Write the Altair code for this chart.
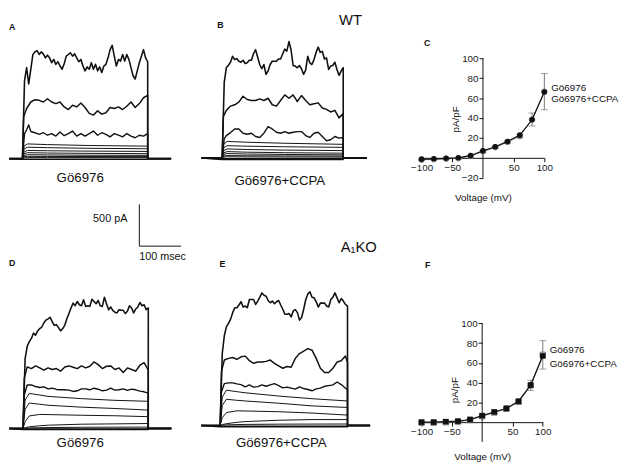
import altair as alt
import pandas as pd

# ------------------------------------------------------------------
# DATA
# ------------------------------------------------------------------
# time grids (ms after step onset)
T5_300 = [0, 5, 10, 15, 20, 25, 30, 35, 40, 45, 50, 55, 60, 65, 70, 75, 80, 85, 90, 95,
          100, 105, 110, 115, 120, 125, 130, 135, 140, 145, 150, 155, 160, 165, 170, 175,
          180, 185, 190, 195, 200, 205, 210, 215, 220, 225, 230, 235, 240, 245, 250, 255,
          260, 265, 270, 275, 280, 285, 290, 295, 300]
T5_290 = T5_300[:59]
T5_305 = T5_300 + [305]
T10_300 = [0, 3, 10, 20, 30, 40, 50, 60, 70, 80, 90, 100, 110, 120, 130, 140, 150, 160,
           170, 180, 190, 200, 210, 220, 230, 240, 250, 260, 270, 280, 290, 300]
T10_290 = T10_300[:31]
T10_305 = T10_300 + [305]
A3_T = [0, 5, 10, 15, 20, 30, 40, 50, 60, 70, 80, 90, 100, 110, 120, 130, 140, 150, 160,
        170, 180, 190, 200, 210, 220, 230, 240, 250, 260, 270, 280, 290, 300]
B3_T = [0, 5, 10, 20, 30, 40, 50, 60, 70, 80, 90, 100, 110, 120, 130, 140, 150, 160,
        170, 180, 190, 200, 210, 220, 230, 240, 250, 260, 270, 280, 290]

# baseline extent of each trace panel (ms)
A_BASE = [-32, 356]
B_BASE = [-49, 347]
D_BASE = [-33, 355]
E_BASE = [-45, 359]

# ---- Panel A (WT, Go6976), currents in pA ----
A_TOP = [0, 933, 1090, 894, 1070, 1247, 1278, 1294, 1247, 1278,
         1254, 1207, 1239, 1207, 1149, 1188, 1129, 1160, 1109, 1070,
         1137, 1227, 1247, 1266, 1227, 1254, 1207, 1160, 1188, 1109,
         1051, 1098, 1070, 1149, 1070, 1129, 1051, 1098, 1031, 1109,
         1129, 1207, 1305, 1356, 1227, 1109, 1188, 1168, 1247, 1168,
         1247, 1188, 1090, 992, 953, 1051, 1149, 1227, 1305, 1207, 1160]
A_MID = [0, 502, 600, 678, 706, 698, 678, 717, 678, 659, 678, 619, 588, 639, 619, 666,
         612, 541, 521, 572, 533, 549, 612, 600, 619, 588, 627, 678, 612, 659, 729, 757]
A_THIRD = [0, 300, 345, 404, 325, 310, 290, 310, 280, 300, 270, 320, 275, 300, 330, 270,
           300, 270, 300, 330, 280, 310, 290, 260, 300, 280, 260, 300, 270, 250, 280, 270, 300]
A_SM_T = [0, 4, 12, 60, 150, 300]
A_SMOOTH = [[0, 150, 176, 168, 158, 149], [0, 115, 137, 131, 124, 118],
            [0, 80, 98, 94, 90, 86], [0, 58, 71, 67, 63, 59],
            [0, 38, 47, 44, 41, 39], [0, 22, 27, 26, 25, 24], [0, 10, 12, 12, 12, 12]]
A_IN_T = [0, 300]
A_INWARD = [[-8, -8]]

# ---- Panel B (WT, Go6976+CCPA) ----
B_TOP = [0, 906, 1082, 1113, 1149, 1219, 1180, 1192, 1160, 1149,
         1172, 1133, 1141, 1172, 1172, 1250, 1298, 1211, 1121, 1070,
         1121, 1004, 1043, 1121, 1160, 1160, 1160, 1188, 1188, 1250,
         1305, 1282, 1396, 1298, 1109, 1102, 1082, 1109, 1070, 1004,
         1055, 1219, 1141, 1121, 1180, 1266, 1329, 1266, 1278, 1188,
         1200, 1062, 1102, 1109, 1149, 1062, 992, 1043, 1082]
B_MID = [0, 500, 572, 623, 639, 670, 741, 702, 690, 690, 710, 690, 717, 639, 623, 690,
         757, 717, 757, 678, 749, 690, 639, 651, 662, 600, 584, 553, 572, 482, 533]
B_THIRD = [0, 230, 270, 306, 349, 349, 298, 286, 298, 259, 247, 298, 376, 349, 310, 298,
           318, 298, 310, 318, 318, 270, 247, 298, 310, 259, 208, 220, 259, 239, 247]
B_SM_T = [0, 4, 12, 60, 150, 290]
B_SMOOTH = [[0, 170, 200, 190, 178, 165], [0, 125, 149, 143, 136, 129],
            [0, 90, 110, 103, 96, 90], [0, 64, 78, 71, 65, 59],
            [0, 45, 55, 49, 44, 39], [0, 25, 31, 28, 26, 24], [0, 13, 16, 14, 13, 12]]
B_IN_T = [0, 290]
B_INWARD = [[-18, -18], [-8, -8]]

# ---- Panel D (A1KO, Go6976) ----
D_TOP = [0, 835, 984, 1039, 1078, 1141, 1117, 1168, 1196, 1215,
         1266, 1298, 1313, 1330, 1278, 1235, 1243, 1207, 1168, 1196,
         1235, 1313, 1376, 1443, 1501, 1470, 1521, 1482, 1470, 1541,
         1462, 1470, 1462, 1548, 1521, 1494, 1533, 1470, 1462, 1572,
         1494, 1423, 1454, 1415, 1392, 1384, 1423, 1415, 1415, 1376,
         1403, 1470, 1443, 1384, 1431, 1454, 1509, 1470, 1482, 1423, 1443]
D_MID = [0, 600, 737, 717, 749, 725, 698, 725, 706, 717, 686, 737, 749, 733, 717, 749,
         725, 745, 796, 764, 717, 745, 749, 706, 725, 670, 725, 706, 686, 757, 788, 698]
D_THIRD = [0, 400, 521, 521, 502, 490, 498, 474, 482, 467, 463, 463, 459, 443, 451, 474,
           474, 463, 482, 470, 451, 459, 482, 459, 463, 474, 455, 470, 463, 447, 439, 423]
D_SM_T = [0, 5, 15, 40, 60, 140, 220, 300]
D_SMOOTH = [[0, 340, 420, 400, 384, 357, 337, 325], [0, 230, 305, 290, 278, 255, 239, 220],
            [0, 80, 150, 168, 166, 158, 152, 141], [0, 8, 20, 32, 39, 51, 55, 59],
            [0, 3, 6, 9, 11, 14, 15, 16]]
D_IN_T = [0, 300]
D_INWARD = [[-6, -6], [-12, -12]]

# ---- Panel E (A1KO, Go6976+CCPA) ----
E_TOP = [0, 862, 1078, 1184, 1223, 1274, 1352, 1411, 1411, 1443,
         1482, 1419, 1431, 1411, 1509, 1509, 1509, 1450, 1490, 1537,
         1588, 1560, 1548, 1497, 1470, 1490, 1458, 1482, 1497, 1443,
         1392, 1333, 1333, 1341, 1301, 1372, 1388, 1352, 1262, 1294,
         1392, 1509, 1576, 1600, 1537, 1529, 1482, 1419, 1466, 1466,
         1466, 1431, 1419, 1509, 1537, 1588, 1529, 1470, 1521, 1490, 1450, 1431]
E_MID = [0, 650, 784, 804, 815, 792, 823, 831, 776, 745, 760, 760, 768, 784, 745, 713,
         686, 706, 698, 804, 862, 890, 921, 902, 804, 686, 635, 635, 686, 760, 776, 831, 753]
E_THIRD = [0, 400, 502, 510, 510, 498, 490, 463, 486, 459, 466, 486, 470, 486, 502, 478,
           451, 459, 447, 435, 463, 443, 431, 416, 439, 447, 470, 478, 486, 521, 490, 447, 431]
E_SM_T = [0, 5, 15, 40, 60, 140, 220, 305]
E_SMOOTH = [[0, 340, 423, 405, 392, 353, 321, 294], [0, 240, 314, 302, 294, 267, 235, 216],
            [0, 95, 155, 176, 174, 165, 149, 125], [0, 10, 22, 38, 47, 63, 71, 71],
            [0, 4, 8, 11, 13, 16, 17, 18]]
E_IN_T = [0, 305]
E_INWARD = [[-8, -8], [-15, -15]]

# ---- scale bar ----
SCALE_MS = [100]
SCALE_PA = [500]

# ---- I-V curves (pA/pF) ----
VOLT = [-100, -80, -60, -40, -20, 0, 20, 40, 60, 80, 100]
SERIES = ["Gö6976", "Gö6976+CCPA"]
C_GO = [-1.3, -1.0, -0.5, 0.0, 2.4, 7.0, 11.2, 16.5, 22.8, 38.2, 66.0]
C_CCPA = [-2.0, -1.5, -1.0, -0.5, 1.8, 6.4, 10.6, 15.8, 21.8, 38.5, 66.5]
C_CCPA_SEM = [0.6, 0.6, 0.6, 0.6, 0.8, 1.2, 1.2, 1.4, 1.8, 6.5, 18.2]
F_GO = [0.0, 0.0, 0.5, 1.0, 2.7, 6.6, 10.3, 14.0, 21.2, 37.5, 67.0]
F_CCPA = [-0.5, -0.5, 0.0, 0.5, 2.2, 6.0, 9.8, 13.5, 20.5, 37.2, 68.1]
F_CCPA_SEM = [0.5, 0.5, 0.5, 0.5, 0.8, 1.0, 1.2, 1.5, 1.8, 5.2, 14.4]
X_TICKS = [-100, -50, 50, 100]
Y_TICKS = [-20, 20, 40, 60, 80, 100]

# ------------------------------------------------------------------
# STYLE / LAYOUT
# ------------------------------------------------------------------
FONT = "Liberation Sans"
INK = "#111111"
PX_MS = 0.425   # px per ms  (100 msec scale bar = 42.5 px)
PX_PA = 0.085   # px per pA  (500 pA scale bar = 42.5 px)

ROW1_H = 146.7
ROW2_H = 53.7
ROW3_H = 160.0


def letter_title(text, dx, offset):
    return alt.TitleParams(text, anchor="start", frame="group", dx=dx, offset=offset,
                           fontSize=9, fontWeight="bold", baseline="middle",
                           color=INK, font=FONT)


def trace_frame(base_ms, groups):
    rows = []
    k = 0
    for times, series_list, width in groups:
        for vals in series_list:
            assert len(times) == len(vals), (len(times), len(vals))
            pts = [(base_ms[0], 0.0)] + list(zip(times, vals)) + \
                  [(times[-1], 0.0), (base_ms[1], 0.0)]
            for i, (t, v) in enumerate(pts):
                rows.append({"sweep": k, "i": i, "t": t, "pA": v, "w": width})
            k += 1
    return pd.DataFrame(rows)


def trace_panel(letter, letter_dx, letter_offset, label, label_x, label_y,
                onset_dx, base_dy, w, h, base_ms, groups):
    df = trace_frame(base_ms, groups)
    t0 = -onset_dx / PX_MS
    t1 = (w - onset_dx) / PX_MS
    p_top = base_dy / PX_PA
    p_bot = -(h - base_dy) / PX_PA
    return alt.Chart(df).mark_line(color=INK, strokeJoin="round").encode(
        x=alt.X("t:Q", scale=alt.Scale(domain=[t0, t1], nice=False, zero=False),
                axis=alt.Axis(domain=False, ticks=False, labels=False, grid=False,
                              title=label, titleX=label_x, titleY=label_y,
                              titleFontSize=13.5, titleFontWeight="normal",
                              titleBaseline="middle", titleAlign="center",
                              titleColor=INK)),
        y=alt.Y("pA:Q", scale=alt.Scale(domain=[p_bot, p_top], nice=False, zero=False),
                axis=None),
        detail="sweep:N",
        order="i:Q",
        strokeWidth=alt.StrokeWidth("w:Q", scale=None),
    ).properties(width=w, height=h, title=letter_title(letter, letter_dx, letter_offset))


def iv_panel(letter, letter_dx, letter_offset, go, ccpa, sem, shape, w, h, top_gap,
             unit_px, ytx, yty, xty, dy1, dy2):
    df = pd.DataFrame({"V": VOLT, "go": go, "cc": ccpa, "sem": sem})
    df["lo"] = df["cc"] - df["sem"]
    df["hi"] = df["cc"] + df["sem"]
    axis_df = pd.DataFrame({"V": [0], "y0": [min(Y_TICKS)], "y1": [max(Y_TICKS)]})
    y_top = max(Y_TICKS) + top_gap / unit_px
    y_bot = y_top - h / unit_px
    xs = alt.Scale(domain=[-100, 100], nice=False, zero=False)
    ys = alt.Scale(domain=[y_bot, y_top], nice=False, zero=False)
    xax = alt.Axis(values=X_TICKS, offset=-(0 - y_bot) * unit_px, grid=False,
                   domainColor=INK, tickColor=INK, tickSize=4, labelFontSize=10,
                   labelColor="#222222", labelPadding=1, labelFlush=False,
                   title="Voltage (mV)", titleFontSize=10, titleFontWeight="normal",
                   titleY=xty, titleBaseline="middle", titleColor=INK)
    yax = alt.Axis(values=Y_TICKS, offset=-w / 2, grid=False, domain=False,
                   tickColor=INK, tickSize=4, labelFontSize=10, labelColor="#222222",
                   labelPadding=1, labelFlush=False, title="pA/pF", titleFontSize=10,
                   titleFontWeight="normal", titleX=ytx, titleY=yty, titleAngle=270,
                   titleAlign="center", titleBaseline="middle", titleColor=INK)
    X = alt.X("V:Q", scale=xs, axis=xax)

    def Y(f):
        return alt.Y(f"{f}:Q", scale=ys, axis=yax)

    base = alt.Chart(df)
    grey = "#777777"
    layers = [
        alt.Chart(axis_df).mark_rule(color=INK, strokeWidth=1).encode(x=X, y=Y("y0"), y2="y1"),
        base.mark_line(color=grey, strokeWidth=1).encode(x=X, y=Y("cc")),
        base.mark_rule(color=grey, strokeWidth=1).encode(x=X, y=Y("lo"), y2="hi"),
        base.mark_tick(color=grey, orient="horizontal", size=7, thickness=1).encode(x=X, y=Y("lo")),
        base.mark_tick(color=grey, orient="horizontal", size=7, thickness=1).encode(x=X, y=Y("hi")),
        base.mark_point(shape=shape, filled=False, color=grey, size=30, opacity=1,
                        strokeWidth=1).encode(x=X, y=Y("cc")),
        base.mark_line(color=INK, strokeWidth=1.2).encode(x=X, y=Y("go")),
        base.mark_point(shape=shape, filled=True, color=INK, size=32, opacity=1).encode(x=X, y=Y("go")),
        base.transform_filter("datum.V == 100").mark_text(
            align="left", baseline="middle", dx=7, dy=dy1, fontSize=10, color=INK, font=FONT
        ).encode(x=X, y=Y("go"), text=alt.value(SERIES[0])),
        base.transform_filter("datum.V == 100").mark_text(
            align="left", baseline="middle", dx=7, dy=dy2, fontSize=10, color=INK, font=FONT
        ).encode(x=X, y=Y("go"), text=alt.value(SERIES[1])),
    ]
    return alt.layer(*layers).properties(width=w, height=h,
                                         title=letter_title(letter, letter_dx, letter_offset))


# ---- trace panels (row 1 plot top = page y 30, row 3 plot top = page y 285) ----
A = trace_panel("A", 0, -2.3, "Gö6976", 72, 0, 13.7, 127.2, 165.3, ROW1_H, A_BASE,
                [(A_SM_T, A_SMOOTH, 1.0), (A_IN_T, A_INWARD, 1.4),
                 (A3_T, [A_THIRD], 1.4), (T10_300, [A_MID], 1.5), (T5_300, [A_TOP], 1.6)])
B = trace_panel("B", 16, -0.7, "Gö6976+CCPA", 79.2, 3.3, 21, 126.7, 203.3, ROW1_H, B_BASE,
                [(B_SM_T, B_SMOOTH, 1.0), (B_IN_T, B_INWARD, 1.4),
                 (B3_T, [B_THIRD], 1.4), (T10_290, [B_MID], 1.5), (T5_290, [B_TOP], 1.6)])
D = trace_panel("D", 0, 13.5, "Gö6976", 72, 1, 14.3, 146.3, 165.3, ROW3_H, D_BASE,
                [(D_SM_T, D_SMOOTH, 1.0), (D_IN_T, D_INWARD, 1.4),
                 (T10_300, [D_THIRD], 1.4), (T10_300, [D_MID], 1.5), (T5_300, [D_TOP], 1.6)])
E = trace_panel("E", 18.4, 11.7, "Gö6976+CCPA", 80.7, 1, 19, 143.3, 203.3, ROW3_H, E_BASE,
                [(E_SM_T, E_SMOOTH, 1.0), (E_IN_T, E_INWARD, 1.4),
                 (T10_305, [E_THIRD], 1.4), (T10_305, [E_MID], 1.5), (T5_305, [E_TOP], 1.6)])

# ---- I-V panels ----
C = iv_panel("C", 2.4, -19, C_GO, C_CCPA, C_CCPA_SEM, "circle", 125, ROW1_H, 25,
             121.7 / 120, -28, 86.7, 40.6, -4.5, 7.5)
F = iv_panel("F", 3.4, 11.3, F_GO, F_CCPA, F_CCPA_SEM, "square", 123.4, ROW3_H, 39.3,
             120.7 / 120, -28, 106.7, 35.1, -5.5, 8.5)

# ---- scale bar ----
S_W, S_H = 175.3, ROW2_H
S_ONSET, S_BASE = 132.7, 42
sb_df = pd.DataFrame({"t": [0], "t2": SCALE_MS, "p": [0], "p2": SCALE_PA})
sx = alt.X("t:Q", scale=alt.Scale(domain=[-S_ONSET / PX_MS, (S_W - S_ONSET) / PX_MS],
                                  nice=False, zero=False),
           axis=alt.Axis(domain=False, ticks=False, labels=False, grid=False,
                         offset=-(S_H - S_BASE), title="100 msec", titleX=132, titleY=10.7,
                         titleAlign="left", titleBaseline="middle", titleFontSize=11,
                         titleFontWeight="normal", titleColor=INK))
sy = alt.Y("p:Q", scale=alt.Scale(domain=[-(S_H - S_BASE) / PX_PA, S_BASE / PX_PA],
                                  nice=False, zero=False),
           axis=alt.Axis(domain=False, ticks=False, labels=False, grid=False,
                         offset=-S_ONSET, title="500 pA", titleX=-12.7, titleY=14,
                         titleAngle=0, titleAlign="right", titleBaseline="middle",
                         titleFontSize=11, titleFontWeight="normal", titleColor=INK))
vert = alt.Chart(sb_df).mark_rule(color=INK, strokeWidth=1).encode(x=sx, y=sy, y2="p2")
horiz = alt.Chart(sb_df).mark_rule(color=INK, strokeWidth=1).encode(x=sx, x2="t2", y=sy)
S = alt.layer(vert, horiz).properties(width=S_W, height=S_H)

# ---- placeholders for the middle row ----
ph_df = pd.DataFrame({"z": [0]})
P1 = alt.Chart(ph_df).mark_point(opacity=0).encode(
    x=alt.X("z:Q", axis=None), y=alt.Y("z:Q", axis=None)
).properties(width=203.3, height=S_H,
             title=alt.TitleParams("A₁KO", anchor="start", frame="group", dx=141.7, dy=58,
                                   offset=0, fontSize=15, fontWeight="normal",
                                   baseline="middle", color=INK, font=FONT))
P2 = alt.Chart(ph_df).mark_point(opacity=0).encode(
    x=alt.X("z:Q", axis=None), y=alt.Y("z:Q", axis=None)
).properties(width=123.4, height=S_H)

chart = alt.concat(
    A, B, C, S, P1, P2, D, E, F,
    columns=3, spacing={"row": 27.3, "column": 20}, bounds="flush", align="each",
).properties(
    title=alt.TitleParams("WT", anchor="start", frame="group", dx=336, offset=-6,
                          baseline="top", fontSize=15, fontWeight="normal",
                          color=INK, font=FONT),
    padding=0,
).configure(font=FONT).configure_view(strokeWidth=0).configure_axis(
    labelFont=FONT, titleFont=FONT
).configure_title(font=FONT)

chart.save("out.html", embed_options={"renderer": "svg", "actions": False})
